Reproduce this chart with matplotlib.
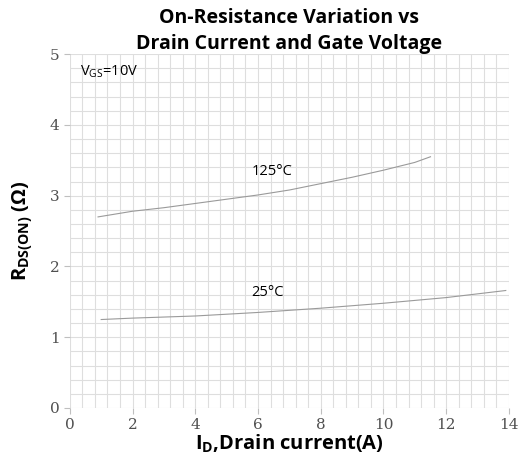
import numpy as np
import matplotlib
matplotlib.use("Agg")
import matplotlib.pyplot as plt
from matplotlib.ticker import MultipleLocator

# data
id_125 = [0.9, 2.0, 3.0, 4.0, 5.0, 6.0, 7.0, 8.0, 9.0, 10.0, 11.0, 11.5]
r_125 = [2.70, 2.78, 2.83, 2.89, 2.95, 3.01, 3.08, 3.17, 3.26, 3.36, 3.47, 3.55]

id_25 = [1.0, 2.0, 4.0, 6.0, 8.0, 10.0, 12.0, 13.9]
r_25 = [1.25, 1.27, 1.30, 1.35, 1.41, 1.48, 1.56, 1.66]

fig = plt.figure(figsize=(5.29, 4.65), dpi=100)
ax = fig.add_axes([0.132, 0.1226, 0.830, 0.761])

ax.plot(id_125, r_125, color="#9a9a9a", lw=0.8)
ax.plot(id_25, r_25, color="#9a9a9a", lw=0.8)

ax.set_xlim(0, 14)
ax.set_ylim(0, 5)
ax.xaxis.set_major_locator(MultipleLocator(2))
ax.xaxis.set_minor_locator(MultipleLocator(0.4))
ax.yaxis.set_major_locator(MultipleLocator(1))
ax.yaxis.set_minor_locator(MultipleLocator(0.2))
ax.grid(which="both", color="#dedede", lw=0.8)
ax.set_axisbelow(True)
for s in ax.spines.values():
    s.set_visible(False)
ax.tick_params(which="major", length=4, color="#bfbfbf", width=0.8,
               labelsize=11, labelcolor="#505050")
ax.tick_params(which="minor", length=0)
for lab in ax.get_xticklabels() + ax.get_yticklabels():
    lab.set_family("DejaVu Serif")

ax.text(0.32, 4.75, r"V$_{\mathregular{GS}}$=10V", fontsize=10.5, family="Open Sans", va="center")
ax.text(6.45, 3.34, "125°C", fontsize=10.5, family="Open Sans", ha="center", va="center")
ax.text(6.3, 1.63, "25°C", fontsize=10.5, family="Open Sans", ha="center", va="center")

ax.set_title("On-Resistance Variation vs\nDrain Current and Gate Voltage",
             fontsize=14, fontweight="bold", family="Open Sans", linespacing=1.35, pad=4)
ax.set_xlabel(r"I$_{\mathregular{D}}$,Drain current(A)", fontsize=14.5,
              fontweight="bold", family="Open Sans", labelpad=0)
ax.set_ylabel(r"R$_{\mathregular{DS(ON)}}$ ($\mathregular{\Omega}$)", fontsize=14.5,
              fontweight="bold", family="Open Sans", labelpad=10)

fig.savefig("out.png", dpi=100)
